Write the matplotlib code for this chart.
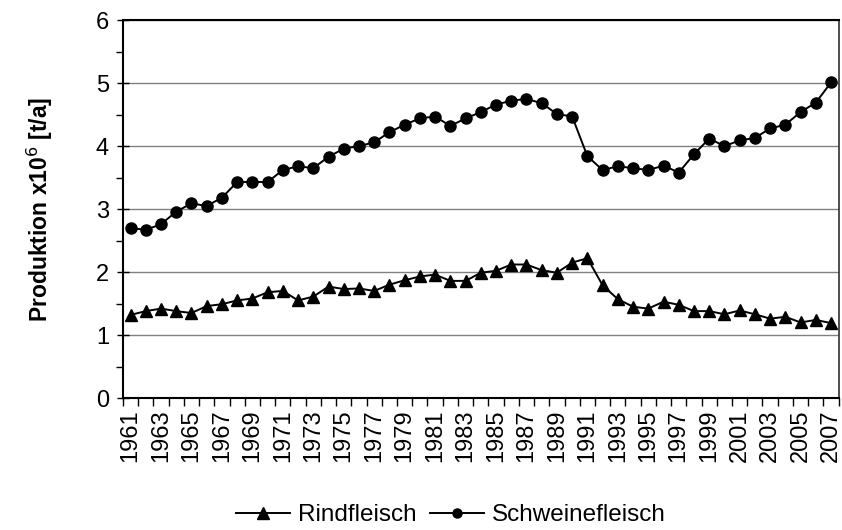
import matplotlib
matplotlib.use("Agg")
import matplotlib.pyplot as plt
from matplotlib.ticker import MultipleLocator, FixedLocator, FixedFormatter

plt.rcParams['font.family'] = ['Liberation Sans', 'DejaVu Sans']

years = list(range(1961, 2008))

rindfleisch = [1.32, 1.38, 1.42, 1.38, 1.35, 1.46, 1.49, 1.55, 1.58, 1.68,
               1.70, 1.55, 1.61, 1.77, 1.73, 1.74, 1.70, 1.80, 1.87, 1.93,
               1.96, 1.86, 1.86, 1.99, 2.02, 2.12, 2.12, 2.03, 1.99, 2.15,
               2.22, 1.79, 1.57, 1.45, 1.42, 1.53, 1.48, 1.38, 1.38, 1.33,
               1.39, 1.33, 1.26, 1.29, 1.20, 1.24, 1.19]

schweinefleisch = [2.70, 2.67, 2.76, 2.96, 3.09, 3.05, 3.18, 3.43, 3.43, 3.43,
                   3.62, 3.68, 3.65, 3.83, 3.96, 4.00, 4.06, 4.22, 4.34, 4.44,
                   4.47, 4.32, 4.44, 4.54, 4.66, 4.72, 4.75, 4.68, 4.51, 4.47,
                   3.84, 3.62, 3.68, 3.65, 3.62, 3.69, 3.58, 3.87, 4.12, 4.00,
                   4.09, 4.13, 4.28, 4.34, 4.54, 4.69, 5.01]

fig = plt.figure(figsize=(8.42, 5.30), dpi=100)
ax = fig.add_axes([0.146, 0.249, 0.850, 0.713])

x = list(range(len(years)))
ax.plot(x, rindfleisch, color='black', lw=1.4, marker='^', markersize=9,
        label='Rindfleisch')
ax.plot(x, schweinefleisch, color='black', lw=1.4, marker='o', markersize=8,
        label='Schweinefleisch')

ax.set_xlim(-0.5, len(years) - 0.5)
ax.set_ylim(0, 6)

# horizontal gridlines
ax.yaxis.set_major_locator(MultipleLocator(1))
ax.yaxis.set_minor_locator(MultipleLocator(0.5))
ax.grid(axis='y', which='major', color='#808080', lw=1)
ax.set_axisbelow(True)

# category axis: tick marks between years, labels every second year
label_pos = x[::2]
ax.xaxis.set_major_locator(FixedLocator(label_pos))
ax.xaxis.set_major_formatter(FixedFormatter([str(years[i]) for i in label_pos]))
ax.xaxis.set_minor_locator(FixedLocator([i - 0.5 for i in range(len(years) + 1)]))
ax.tick_params(axis='x', which='major', length=0, labelrotation=90,
               labelsize=17, pad=8)
ax.tick_params(axis='x', which='minor', length=6, width=1, color='black',
               direction='out')
ax.tick_params(axis='y', which='major', length=8, width=1, labelsize=17,
               direction='inout', pad=6)
ax.tick_params(axis='y', which='minor', length=5, width=1, direction='out')

for s in ['left', 'bottom', 'top']:
    ax.spines[s].set_linewidth(1.5)
    ax.spines[s].set_color('black')
ax.spines['right'].set_linewidth(1.2)
ax.spines['right'].set_color('#303030')

ax.set_ylabel('Produktion x10$^6$ [t/a]', fontsize=16.5, fontweight='bold')
ax.yaxis.set_label_coords(-0.095, 0.5)

leg = fig.legend(loc='center', bbox_to_anchor=(0.535, 0.028), ncol=2,
                 frameon=False, fontsize=17.5,
                 handlelength=2.25, handletextpad=0.3, columnspacing=0.55,
                 borderpad=0)
# legend symbols: full-size triangle, smaller dot
leg.legend_handles[0].set_markersize(8.5)
leg.legend_handles[1].set_markersize(6.5)

fig.savefig('out.png', dpi=100)
